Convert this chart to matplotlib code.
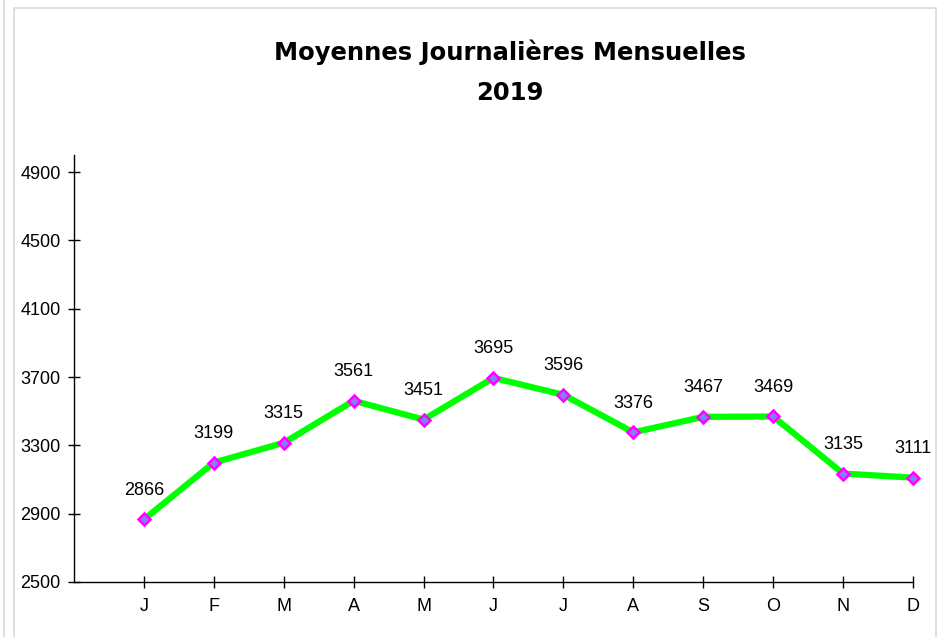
import matplotlib
matplotlib.use("Agg")
import matplotlib.pyplot as plt
from matplotlib.lines import Line2D
from matplotlib.patches import Rectangle

months = ["J", "F", "M", "A", "M", "J", "J", "A", "S", "O", "N", "D"]
values = [2866, 3199, 3315, 3561, 3451, 3695, 3596, 3376, 3467, 3469, 3135, 3111]
yticks = [2500, 2900, 3300, 3700, 4100, 4500, 4900]
title = "Moyennes Journalières Mensuelles\n2019"

fig = plt.figure(figsize=(9.38, 6.37), dpi=100)
fig.patch.set_facecolor("white")

# outer frame lines
fig.add_artist(Rectangle((13.5/938, -0.01), (936-13.5)/938, (637-7.5)/637 + 0.01,
                         transform=fig.transFigure, fill=False, edgecolor="#d9d9d9", lw=1.2))
fig.add_artist(Line2D([3.5/938, 3.5/938], [0, 1], transform=fig.transFigure, color="#d9d9d9", lw=1.2))

ax = fig.add_axes([74/938, 1-582/637, (913-74)/938, (582-155)/637])
x = list(range(1, len(months) + 1))
ax.plot(x, values, color="#00ff00", lw=4.5, solid_joinstyle="round", zorder=2, clip_on=False)
ax.plot(x, values, linestyle="none", marker="D", markersize=6.5, markerfacecolor="#7f7fff",
        markeredgecolor="#ff00ff", markeredgewidth=1.8, zorder=3, clip_on=False)
for xi, v in zip(x, values):
    ax.annotate(str(v), (xi, v), xytext=(0, 21), textcoords="offset points",
                ha="center", va="center", fontsize=13, family="Liberation Sans")

ax.set_xlim(0, 12)
ax.set_ylim(2500, 5000)
ax.set_xticks(x)
ax.set_xticklabels(months, family="Liberation Sans", fontsize=13)
ax.set_yticks(yticks)
ax.set_yticklabels([str(t) for t in yticks], family="Liberation Sans", fontsize=13)
ax.tick_params(axis="both", direction="inout", length=9, width=1, color="black")
ax.tick_params(axis="x", pad=7)
ax.tick_params(axis="y", pad=5)
for s in ["top", "right"]:
    ax.spines[s].set_visible(False)
for s in ["left", "bottom"]:
    ax.spines[s].set_linewidth(1)
    ax.spines[s].set_color("black")
ax.set_facecolor("white")

fig.text(510/938, 1-72/637, title, ha="center", va="center", fontsize=17.5,
         fontweight="bold", linespacing=1.85, family="DejaVu Sans")

fig.savefig("out.png", dpi=100)
